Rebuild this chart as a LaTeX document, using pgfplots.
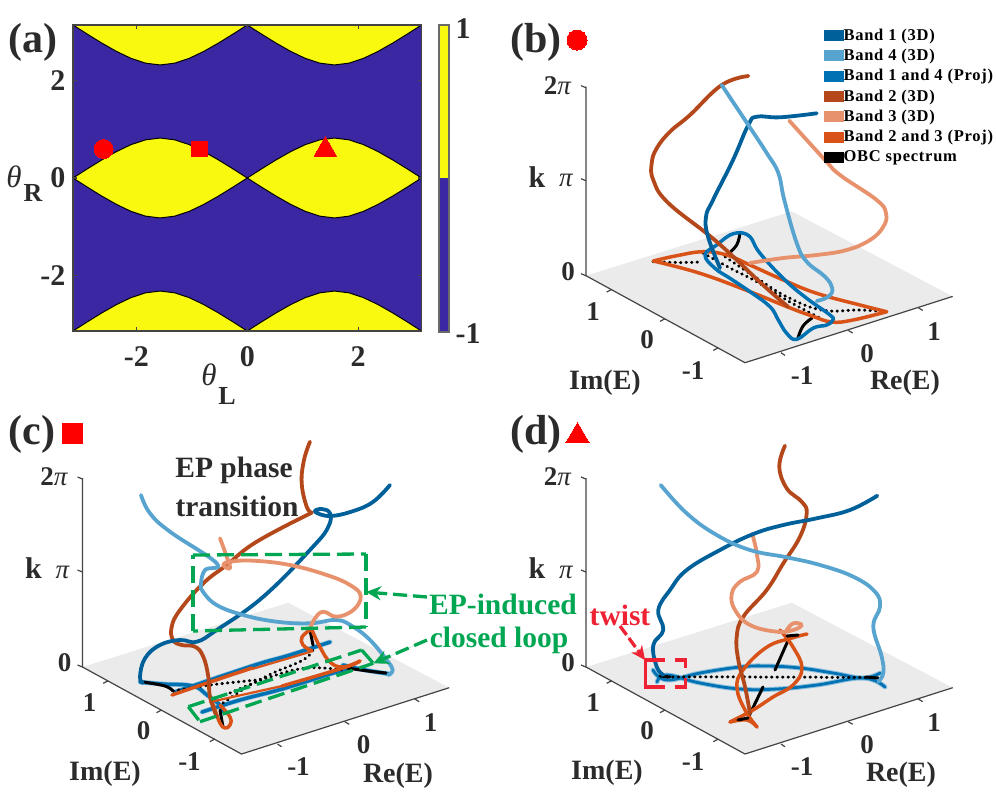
\documentclass[border=0pt]{standalone}
\usepackage{fontspec}
\setmainfont{Liberation Serif}
\usepackage{pgfplots}
\usepackage{pgfplotstable}
\pgfplotsset{compat=1.18}
\usetikzlibrary{arrows.meta}
\newcommand\fs[1]{\fontsize{#1}{#1}\selectfont}
\definecolor{bandA}{HTML}{00609A}
\definecolor{bandD}{HTML}{56A4CF}
\definecolor{projB}{HTML}{0072B3}
\definecolor{bandB}{HTML}{B4481A}
\definecolor{bandC}{HTML}{E8926D}
\definecolor{projO}{HTML}{D95319}
\definecolor{txt}{HTML}{2B2B2B}
\definecolor{frm}{HTML}{444444}
\definecolor{navy}{HTML}{3C27A3}
\definecolor{yel}{HTML}{F9F90F}
\definecolor{grn}{HTML}{00A651}
\definecolor{redd}{HTML}{EE2233}
\pgfplotstableread{
x y
0 0
.2618 .1903
.5236 .3742
.7854 .5432
1.0472 .6857
1.309 .7839
1.5708 .8203
1.8326 .7839
2.0944 .6857
2.3562 .5432
2.618 .3742
2.8798 .1903
3.1416 0
}\archtab
\pgfplotstableread{
x y
0 0
.2618 .1903
.5236 .3742
.7854 .5432
1.0472 .6857
1.309 .7839
1.5708 .8203
1.8326 .7839
2.0944 .6857
2.3562 .5432
2.618 .3742
2.8798 .1903
3.1416 0
2.8798 -.1903
2.618 -.3742
2.3562 -.5432
2.0944 -.6857
1.8326 -.7839
1.5708 -.8203
1.309 -.7839
1.0472 -.6857
.7854 -.5432
.5236 -.3742
.2618 -.1903
0 0
}\lenstab
\pgfplotstableread{
x y
586 667
745 754
952.7 687.7
791.7 602.7
586 667
}\floortab
\pgfplotsset{
 cv/.style={forget plot,no marks,smooth,tension=0.7,line cap=round,line join=round},
 b1/.style={cv,color=bandA,line width=3.8pt},
 b4/.style={cv,color=bandD,line width=3.8pt},
 pb/.style={cv,color=projB,line width=3.5pt},
 pg/.style={cv,color=projB!45,line width=4.8pt},
 b2/.style={cv,color=bandB,line width=3.8pt},
 b3/.style={cv,color=bandC,line width=3.8pt},
 po/.style={cv,color=projO,line width=3.5pt},
 ks/.style={cv,color=black,line width=3pt},
 kd/.style={cv,color=black,line width=3pt,dash pattern=on 0.5pt off 5pt},
 redm/.style={forget plot,only marks,color=red,mark options={fill=red,draw=red,solid,line width=0pt}},
}
\tikzset{
 gl/.style={draw=grn,line width=3.3pt,dash pattern=on 17pt off 7pt},
 ga/.style={draw=grn,fill=grn,line width=3.3pt,dash pattern=on 14pt off 6pt,-{Stealth[length=15pt,width=14pt]}},
 rl/.style={draw=redd,line width=3.3pt},
}
\newcommand\panelframe[2]{%
 \addplot[forget plot,fill=black!8,draw=none] table[x expr=\thisrow{x}+#1,y expr=\thisrow{y}+#2]{\floortab};
 \draw[frm,line width=1.2pt] ({586+#1},{478+#2}) -- ({586+#1},{667+#2}) -- ({745+#1},{754+#2}) -- ({952.7+#1},{687.7+#2});
 \draw[frm,line width=1.2pt] ({581+#1},{477+#2}) -- ({586+#1},{479+#2});
 \draw[frm,line width=1.2pt] ({581+#1},{570+#2}) -- ({586+#1},{572+#2});
 \draw[frm,line width=1.2pt] ({581+#1},{665+#2}) -- ({586+#1},{667+#2});
 \draw[frm,line width=1.2pt] ({606.7+#1},{683.3+#2}) -- ({611.7+#1},{680.7+#2});
 \draw[frm,line width=1.2pt] ({660+#1},{712.7+#2}) -- ({665+#1},{710+#2});
 \draw[frm,line width=1.2pt] ({713.3+#1},{741.7+#2}) -- ({718.3+#1},{739+#2});
 \draw[frm,line width=1.2pt] ({781+#1},{744+#2}) -- ({785+#1},{746.7+#2});
 \draw[frm,line width=1.2pt] ({848.3+#1},{721.7+#2}) -- ({852.7+#1},{724.3+#2});
 \draw[frm,line width=1.2pt] ({918.3+#1},{699+#2}) -- ({922.7+#1},{701.7+#2});
}
\newcommand\panellabels[2]{%
 \node[txt,font=\bfseries\fs{27}] at ({557.5+#1},{477+#2}) {2{\mdseries\itshape π}};
 \node[txt,font=\bfseries\fs{30}] at ({537+#1},{568+#2}) {k};
 \node[txt,font=\fs{27}\itshape] at ({566+#1},{572+#2}) {π};
 \node[txt,font=\bfseries\fs{27}] at ({568+#1},{663+#2}) {0};
 \node[txt,font=\bfseries\fs{27}] at ({593+#1},{703+#2}) {1};
 \node[txt,font=\bfseries\fs{27}] at ({647+#1},{731+#2}) {0};
 \node[txt,font=\bfseries\fs{27}] at ({693+#1},{762+#2}) {-1};
 \node[txt,font=\bfseries\fs{27}] at ({802+#1},{767+#2}) {-1};
 \node[txt,font=\bfseries\fs{27}] at ({867+#1},{745+#2}) {0};
 \node[txt,font=\bfseries\fs{27}] at ({934+#1},{723+#2}) {1};
}
\begin{document}
\begin{tikzpicture}[x=1pt,y=1pt]
\path[use as bounding box] (0,0) rectangle (996,807);
\begin{axis}[name=pa,at={(73pt,476pt)},anchor=south west,scale only axis,width=348.5pt,height=306pt,
 xmin=-3.1416,xmax=3.1416,ymin=-3.1416,ymax=3.1416,
 axis background/.style={fill=navy},axis on top,
 axis line style={frm,line width=1.4pt},
 tick style={frm,line width=1.2pt},tick align=inside,major tick length=4pt,
 xtick={-2,0,2},ytick={-2,0,2},xticklabels={-2,0,2},yticklabels={-2,0,2},
 tick label style={font=\bfseries\fs{30},text=txt},
 xticklabel shift=12pt,yticklabel style={xshift=-4pt},
 clip=true]
\addplot[forget plot,fill=yel,draw=black,line width=1pt] table[x expr=\thisrow{x}-3.1416]{\lenstab};
\addplot[forget plot,fill=yel,draw=black,line width=1pt] table{\lenstab};
\addplot[forget plot,fill=yel,draw=black,line width=1pt] table[x expr=\thisrow{x}-3.1416,y expr=3.1416-\thisrow{y}]{\archtab} --cycle;
\addplot[forget plot,fill=yel,draw=black,line width=1pt] table[y expr=3.1416-\thisrow{y}]{\archtab} --cycle;
\addplot[forget plot,fill=yel,draw=black,line width=1pt] table[x expr=\thisrow{x}-3.1416,y expr=\thisrow{y}-3.1416]{\archtab} --cycle;
\addplot[forget plot,fill=yel,draw=black,line width=1pt] table[y expr=\thisrow{y}-3.1416]{\archtab} --cycle;
\addplot[redm,mark=*,mark size=9.5pt] coordinates {(-2.59,.595)};
\addplot[redm,mark=square*,mark size=7.7pt] coordinates {(-.858,.595)};
\addplot[redm,mark=triangle*,mark size=13pt] coordinates {(1.407,.585)};
\end{axis}
\begin{axis}[at={(439pt,475pt)},anchor=south west,scale only axis,width=10pt,height=307pt,
 xmin=0,xmax=1,ymin=-1,ymax=1,xtick=\empty,ytick=\empty,
 axis line style={frm!80,line width=1.4pt},axis on top]
\addplot[forget plot,fill=yel,draw=none] coordinates {(0,0)(1,0)(1,1)(0,1)} --cycle;
\addplot[forget plot,fill=navy,draw=none] coordinates {(0,-1)(1,-1)(1,0)(0,0)} --cycle;
\end{axis}
\begin{axis}[at={(0pt,0pt)},anchor=south west,scale only axis,width=996pt,height=807pt,
 xmin=0,xmax=996,ymin=0,ymax=807,y dir=reverse,hide axis,clip=false,
 legend style={at={(axis cs:824,28)},anchor=north west,draw=none,fill=none,
   font=\bfseries\fs{16.5}\addfontfeature{LetterSpace=4.6},row sep=6.2pt,inner sep=0pt,outer sep=0pt,
   nodes={inner sep=0.6pt,text=black}},
 legend cell align=left,
 legend image code/.code={\fill[#1] (0pt,-5pt) rectangle (18.5pt,5pt);}]
\addlegendimage{color=bandA}\addlegendentry{Band 1 (3D)}
\addlegendimage{color=bandD}\addlegendentry{Band 4 (3D)}
\addlegendimage{color=projB}\addlegendentry{Band 1 and 4 (Proj)}
\addlegendimage{color=bandB}\addlegendentry{Band 2 (3D)}
\addlegendimage{color=bandC}\addlegendentry{Band 3 (3D)}
\addlegendimage{color=projO}\addlegendentry{Band 2 and 3 (Proj)}
\addlegendimage{color=black}\addlegendentry{OBC spectrum}
\panelframe{0}{-391.3}
\panelframe{-503.5}{0}
\panelframe{0}{0}
% ---------- panel (b)
\addplot[kd] coordinates {(653,261.7)(680,262.5)(702,262)};
\addplot[kd] coordinates {(703,253)(730,268)(756.7,281.7)(790,302)(820,318)};
\addplot[kd] coordinates {(725,256.7)(756.7,278)(786.7,296.7)(821.7,310)(860,310)(886,311.7)};
\addplot[ks] coordinates {(740,232.7)(736.7,245)(727,255)};
\addplot[ks] coordinates {(798,338)(803,326)(812,318)};
\addplot[po] coordinates {(653.3,261)(676.7,255.7)(703.3,251.7)(726.7,255)(750,265)(783.3,280)(816.7,293.3)(860,305)(886.7,311.7)};
\addplot[po] coordinates {(886.7,311.7)(853,320)(832,322)(812,316)(787,306.7)(750,291.7)(700,273.3)(653.3,261)};
\addplot[pb] coordinates {(740,232.7)(750,236.7)(760,253.3)(785,280)(806.7,298.3)(830,315)(832.7,320)(826.7,325)(813.3,328)(796.7,339.3)(786.7,333.3)(778.3,320)(770,306.7)(750,291.7)(730,278.3)(715,268.3)(705,255)(716.7,245)(730,235)(740,232.7)};
\addplot[b2] coordinates {(748.3,76)(721.7,85)(690,115)(670,131.7)(656.7,148.3)(651.7,163.3)(653.3,180)(668.3,203)(716.7,241.7)(763,285)(788,306.7)};
\addplot[b3] coordinates {(789.3,120.7)(825,160)(840,175)(876.7,200)(886,213.3)(883.3,226.7)(870,240)(846.7,250)(816.7,255)(783.3,258)(750,263)};
\addplot[b1] coordinates {(816.7,113.3)(780,117.3)(756.7,116.7)(748.3,125)(733,160)(713,200)(706,216.7)(708,236.7)(720,268)};
\addplot[b4] coordinates {(721.7,85)(748.3,125)(766.7,153)(778.3,173)(784.3,200)(796.7,243)(806.7,261.7)(825,276.7)(832.3,288.3)(828.3,296.7)(816.7,301)};
% ---------- panel (c)
\addplot[pg] coordinates {(140,682)(163,684)(193,686)(207,695)(220,705)};
\addplot[pg] coordinates {(175,692)(252,666)(290,655)(330,642)};
\addplot[pg] coordinates {(202,712)(240,700)(282,689)(330,674)(350,668)};
\addplot[pg] coordinates {(343,665)(365,670)(390,674)};
\addplot[pb] coordinates {(140,682)(163,684)(193,686)(207,695)(220,705)(222,712)};
\addplot[pb] coordinates {(175,692)(252,666)(290,655)(330,642)};
\addplot[pb] coordinates {(202,712)(240,700)(282,689)(330,674)(350,668)};
\addplot[pb] coordinates {(343,665)(365,670)(390,674)};
\addplot[ks] coordinates {(143,682)(165,686)(173,691)};
\addplot[ks] coordinates {(347,668)(368,671)(386,673)};
\addplot[ks] coordinates {(310,630)(313,645)};
\addplot[ks] coordinates {(220,710)(223,727)};
\addplot[kd] coordinates {(173,691)(210,685)(257,680)};
\addplot[kd] coordinates {(223,703)(253,683)(273,673)(303,660)(313,650)};
\addplot[kd] coordinates {(230,693)(270,677)(307,668)(343,670)};
\addplot[po] coordinates {(172,695)(210,682)(252,668)};
\addplot[po,line width=2.2pt] coordinates {(252,669)(303,654)(312,651)};
\addplot[po] coordinates {(282,686)(343,668)(360,661)};
\addplot[po,line width=2.2pt] coordinates {(210,702)(282,686)};
\addplot[po] coordinates {(310,630)(302,637)(303,645)(312,651)};
\addplot[po] coordinates {(312,630)(320,647)(330,662)(343,667)(360,661)};
\addplot[po] coordinates {(212,702)(215,710)(220,723)(225,728)(230,725)(230,717)(220,705)};
\addplot[b2] coordinates {(310,441.7)(304,460)(301.7,483.3)(306.7,506.7)(311.7,512.7)};
\addplot[b2] coordinates {(311.7,512.7)(256.7,541.7)(226.7,565)(203.3,583.3)(180,610)(171.7,626.7)(173,640)(181.7,645)(195,646.7)(203.3,656.7)(208.3,676.7)(210,696.7)(216.7,716.7)};
\addplot[b1] coordinates {(390,485)(373.3,501.7)(353.3,511)(330,516)(315,511.7)(321.7,509)(330,513.3)(328.3,526.7)(313,546.7)(263.3,596.7)(216.7,630)(196.7,641.7)(180,640)(160,645)(145,658.3)(140,676.7)(143,683)};
\addplot[b4] coordinates {(141,495)(150,513.3)(170,531.7)(216.7,563.3)(205,570)(201,583.3)(203,591.7)(216.7,605)(243.3,615)(276.7,621.7)(310,623.3)(336.7,620)(353,626.7)(370,640)(386.7,660)(392.7,670)(388,675)};
\addplot[b3] coordinates {(220,538.3)(226.7,556.7)(230,568.3)(223.3,565)(230,561.7)(253.3,560.7)(290,565)(326.7,575)(350,585)(360.7,596)(353.3,610)(336.7,616.7)(323.3,611.7)(315,618.3)(310,628.3)};
% ---------- panel (d)
\addplot[pg] coordinates {(653,670)(667,680)(700,673)(740,667)(767,666)(800,668)(833,673)(863,678)(880,673)};
\addplot[pg] coordinates {(657,682)(667,675)(700,683)(740,689)(777,689)(817,685)(863,678)(885,687)};
\addplot[pb,line width=2.8pt] coordinates {(653,670)(667,680)(700,673)(740,667)(767,666)(800,668)(833,673)(863,678)(880,673)};
\addplot[pb,line width=2.8pt] coordinates {(657,682)(667,675)(700,683)(740,689)(777,689)(817,685)(863,678)(885,687)};
\addplot[kd] coordinates {(667,677)(760,677)(873,677.5)};
\addplot[ks,sharp plot] coordinates {(790,636)(775,670)};
\addplot[ks,sharp plot] coordinates {(763,687)(748,718)};
\addplot[ks,sharp plot] coordinates {(660,676)(670,677)};
\addplot[ks,sharp plot] coordinates {(866,677)(878,678)};
\addplot[po] coordinates {(807,634)(792,638)(767,647)(743,670)(737,688)(745,710)(757,727)};
\addplot[po] coordinates {(780,630)(793,647)(802,668)(793,685)(773,697)(753,710)(730,722)};
\addplot[po] coordinates {(730,722)(747,720)(757,727)};
\addplot[ks,sharp plot] coordinates {(738,720)(748,718)};
\addplot[ks,sharp plot] coordinates {(787,636)(798,635)};
\addplot[b2] coordinates {(785,445.7)(779.3,466.7)(786.7,488.3)(801.7,501.7)(806.7,513.3)(800,536.7)(783.3,563.3)(766.7,590)(743.3,616.7)(736.7,636.7)(738.3,660)(745,686.7)(750,713.3)};
\addplot[b3] coordinates {(752.3,534)(756.7,553.3)(757,571.7)(740,581.7)(731.7,594)(735,610)(750,625)(776.7,631.7)(793.3,630)(801.7,625)(793.3,623.3)(786.7,630)};
\addplot[b1] coordinates {(877.3,495.7)(850,510)(816.7,518.3)(783.3,525)(753.3,534)(720,550)(686.7,570)(670,590)(658.3,610)(663.3,630)(653.3,645)(656.7,666.7)(663.3,675)};
\addplot[b4] coordinates {(660.7,485)(686.7,513.3)(716.7,535)(750,550)(786.7,557.3)(820,565)(853.3,576.7)(875,591.7)(880,606.7)(873.3,626.7)(881.7,656.7)(883.3,673)(878.3,681.7)};
% ---------- annotations
\draw[gl] (193,555) -- (366,554);
\draw[gl] (366,554) -- (366,627);
\draw[gl] (366,627) -- (193,631);
\draw[gl] (193,631) -- (193,555);
\draw[gl] (188.3,706.7) -- (361.7,650);
\draw[gl] (200,721.7) -- (373.3,663.3);
\draw[gl] (188.3,706.7) -- (200,721.7);
\draw[gl] (361.7,650) -- (373.3,663.3);
\draw[ga] (427,597) -- (366,592);
\draw[ga] (427,640) -- (373.3,663.3);
\draw[rl] (665,660) -- (645.7,660) -- (645.7,687) -- (665,687);
\draw[rl] (675,660) -- (685.3,660) -- (685.3,668);
\draw[rl] (685.3,678) -- (685.3,687) -- (675,687);
\draw[rl,fill=redd,dash pattern=on 11pt off 4pt,-{Stealth[length=14pt,width=13pt]}] (620,626) -- (645,660);
\addplot[redm,mark=*,mark size=10pt] coordinates {(577,40)};
\addplot[redm,mark=square*,mark size=10pt] coordinates {(72.5,433)};
\addplot[redm,mark=triangle*,mark size=13.5pt] coordinates {(577.5,436)};
% ---------- texts
\panellabels{0}{-391.3}
\panellabels{-503.5}{0}
\panellabels{0}{0}
\node[txt,font=\bfseries\fs{42}] at (33,42) {(a)};
\node[txt,font=\bfseries\fs{42}] at (536,42) {(b)};
\node[txt,font=\bfseries\fs{42}] at (32,434) {(c)};
\node[txt,font=\bfseries\fs{42}] at (536,434) {(d)};
\node[txt,font=\fs{31}\itshape] at (14,177) {θ};
\node[txt,font=\bfseries\fs{26}] at (33,193) {R};
\node[txt,font=\fs{31}\itshape] at (209,375) {θ};
\node[txt,font=\bfseries\fs{26}] at (227,396) {L};
\node[txt,font=\bfseries\fs{30}] at (463,29) {1};
\node[txt,font=\bfseries\fs{30}] at (468,334) {-1};
\node[txt,font=\bfseries\fs{28}] at (605,383) {Im(E)};
\node[txt,font=\bfseries\fs{28}] at (905,383) {Re(E)};
\node[txt,font=\bfseries\fs{28}] at (105,774) {Im(E)};
\node[txt,font=\bfseries\fs{28}] at (398,776) {Re(E)};
\node[txt,font=\bfseries\fs{28}] at (607,773) {Im(E)};
\node[txt,font=\bfseries\fs{28}] at (901,775) {Re(E)};
\node[txt,font=\bfseries\fs{29.5}] at (234,470) {EP phase};
\node[txt,font=\bfseries\fs{29.5}] at (237,506) {transition};
\node[grn,font=\bfseries\fs{29.5}] at (503,604) {EP-induced};
\node[grn,font=\bfseries\fs{29.5}] at (499,640) {closed loop};
\node[redd,font=\bfseries\fs{29.5}] at (620,615) {twist};
\end{axis}
\end{tikzpicture}
\end{document}
